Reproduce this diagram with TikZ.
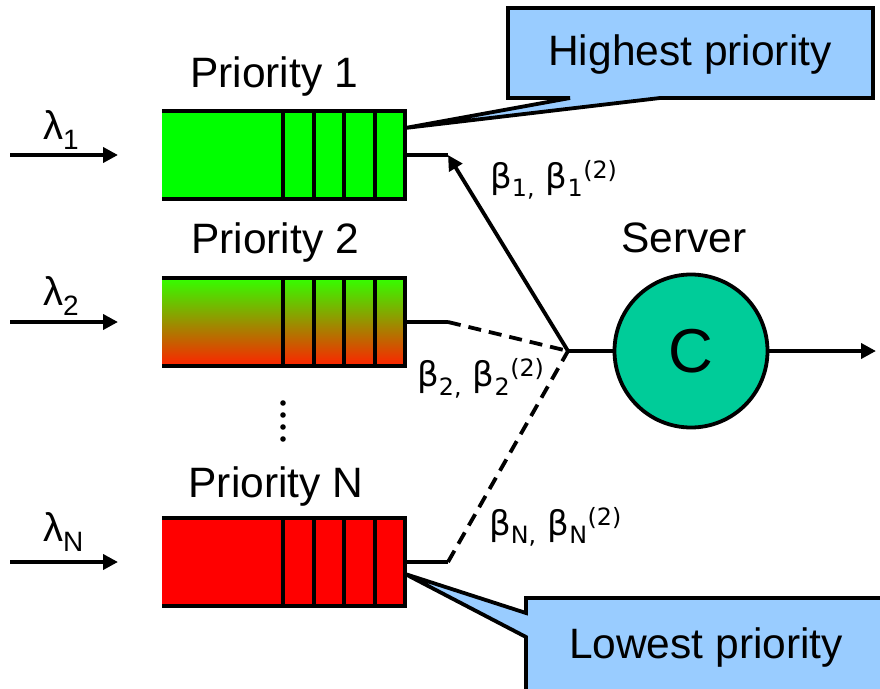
\documentclass[tikz,border=0pt]{standalone}
\usepackage{fontspec}
\setmainfont{Liberation Sans}
\newfontfamily\betafont{DejaVu Sans}
\usetikzlibrary{arrows.meta}
\definecolor{qgreen}{HTML}{00FF00}
\definecolor{qred}{HTML}{FF0000}
\definecolor{gtop}{HTML}{33FF00}
\definecolor{gmid}{HTML}{B0DA00}
\definecolor{gbot}{HTML}{FF2200}
\definecolor{callblue}{HTML}{99CCFF}
\definecolor{servteal}{HTML}{00CC99}
\tikzset{
  ln/.style={line width=3.8pt},
  arr/.style={ln,-{Triangle[length=15pt,width=15pt]}},
  dsh/.style={ln,dash pattern=on 13pt off 8pt},
  queuebox/.style={minimum width=243pt,minimum height=88pt,inner sep=0pt,draw=none},
  lbl/.style={font=\fontsize{42.5}{48}\selectfont,inner sep=0pt},
  lam/.style={font=\fontsize{40}{46}\selectfont,inner sep=0pt},
  bet/.style={font=\betafont\fontsize{34}{40}\selectfont,inner sep=0pt},
  callout/.style={ln,fill=callblue,line join=miter},
}
\newcommand{\queuedraw}[1]{%
  \draw[ln] (#1.north west) -- (#1.north east) -- (#1.south east) -- (#1.south west);
  \foreach \xx in {121,152,182,213}{
    \draw[ln] ([xshift=\xx pt]#1.north west) -- ([xshift=\xx pt]#1.south west);
  }
}
\begin{document}
\begin{tikzpicture}[x=1pt,y=-1pt]
\useasboundingbox (0,0) rectangle (880,688);
\begin{scope}
\clip (0,0) rectangle (880,688);
% queues
\node[queuebox,fill=qgreen] (q1) at (283.5,155) {};
\node[queuebox,top color=gtop,middle color=gmid,bottom color=gbot] (q2) at (283.5,322) {};
\node[queuebox,fill=qred] (qN) at (283.5,562) {};
\queuedraw{q1}
\queuedraw{q2}
\queuedraw{qN}

% callouts
\draw[callout] (508,8) -- (873,8) -- (873,98) -- (660,98) -- (q1.east |- 0,128) -- (570,98) -- (508,98) -- cycle;
\node[lbl] (hp) at (690,55) {Highest priority};
\draw[callout] (526,598) -- (900,598) -- (900,700) -- (526,700) -- (526,637) -- (qN.east |- 0,574) -- (526,613) -- cycle;
\node[lbl] (lp) at (706,648) {Lowest priority};

% labels
\node[lbl] (p1) at (274,77) {Priority 1};
\node[lbl] (p2) at (275,243) {Priority 2};
\node[lbl] (pN) at (276,487) {Priority N};
\foreach \yy in {403,415,427,439}{\fill (283,\yy) circle (2.8pt);}

% arrivals
\coordinate (a1s) at (10,155); \coordinate (a1e) at (118,155);
\coordinate (a2s) at (10,322); \coordinate (a2e) at (118,322);
\coordinate (aNs) at (10,562); \coordinate (aNe) at (118,562);
\draw[arr] (a1s) -- (a1e);
\draw[arr] (a2s) -- (a2e);
\draw[arr] (aNs) -- (aNe);
\node[lam,anchor=base west] (l1) at (43,139) {λ\textsubscript{1}};
\node[lam,anchor=base west] (l2) at (43,305) {λ\textsubscript{2}};
\node[lam,anchor=base west] (lN) at (43,541) {λ\textsubscript{N}};

% server
\node[circle,ln,draw,fill=servteal,minimum size=153pt,inner sep=0pt,font=\fontsize{62}{70}\selectfont] (srv) at (691,351) {C};
\node[lbl] (sl) at (684,238) {Server};
\coordinate (jn) at (568,351);
\coordinate (o1) at (448,155);
\coordinate (o2) at (448,322);
\coordinate (oN) at (448,562);
\coordinate (out) at (876,351);

\draw[ln] (q1.east) -- (o1);
\draw[ln] (q2.east) -- (o2);
\draw[ln] (qN.east) -- (oN);
\draw[arr] (jn) -- (o1);
\draw[dsh] (o2) -- (jn);
\draw[dsh] (oN) -- (jn);
\draw[ln] (jn) -- (srv.west);
\draw[arr] (srv.east) -- (out);

\node[bet,anchor=base west] (b1) at (490,188) {β\textsubscript{1,} β\textsubscript{1}\textsuperscript{(2)}};
\node[bet,anchor=base west] (b2) at (417,386) {β\textsubscript{2,} β\textsubscript{2}\textsuperscript{(2)}};
\node[bet,anchor=base west] (bN) at (489,535) {β\textsubscript{N,} β\textsubscript{N}\textsuperscript{(2)}};
\end{scope}
\end{tikzpicture}
\end{document}
